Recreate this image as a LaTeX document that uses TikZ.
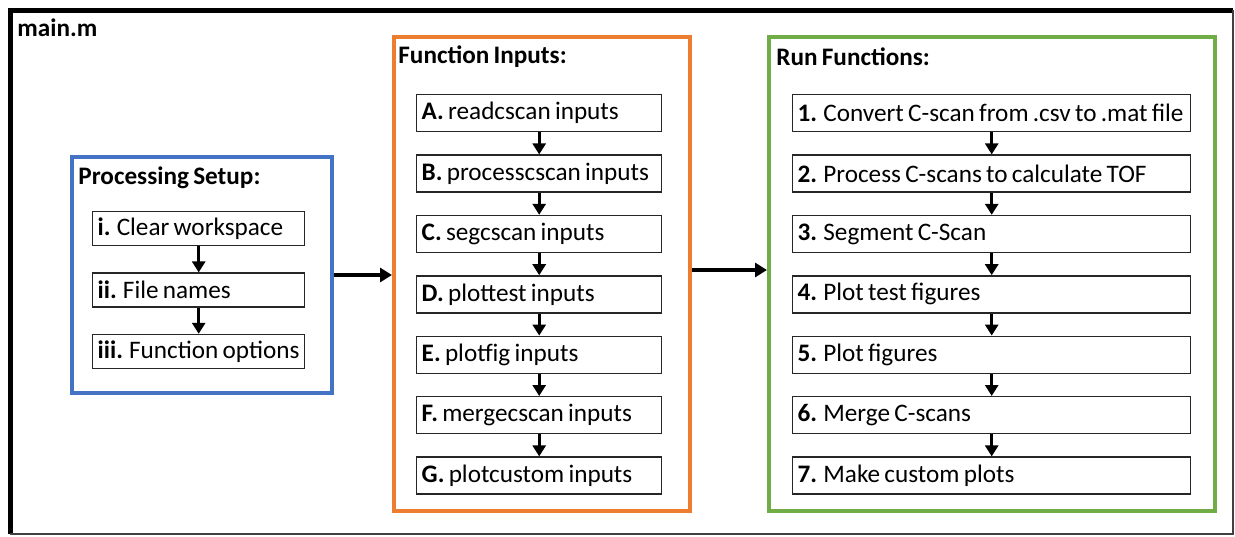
\documentclass[tikz,border=0pt]{standalone}
\usepackage{fontspec}
\setmainfont{Carlito}[WordSpace={0.75,0,0}]
\usetikzlibrary{positioning,arrows.meta}
\definecolor{setupblue}{RGB}{68,114,196}
\definecolor{inputorange}{RGB}{237,125,49}
\definecolor{rungreen}{RGB}{112,173,71}
\newcommand{\boxFont}[0]{\fontsize{12.6}{14}\selectfont}

\begin{document}
\begin{tikzpicture}[x=0.5pt, y=-0.5pt]
  \tikzset{
    stepbox/.style={draw=black!85, line width=0.7pt, align=flush left, anchor=north west,
      inner xsep=2.5pt, inner ysep=0pt, minimum height=18.5pt, font=\boxFont},
    groupbox/.style={line width=2pt, anchor=north west, inner sep=0pt},
    grouptitle/.style={anchor=west, inner sep=0pt, font=\boxFont\bfseries},
    steparrow/.style={-{Triangle[width=6.5pt,length=5.5pt]}, line width=1.6pt},
    bigarrow/.style={-{Triangle[width=7pt,length=6pt]}, line width=2pt}
  }
  \useasboundingbox (0,0) rectangle (1235,536);
  % main.m frame
  \draw[line width=2.5pt] (10,534) -- (10,10) -- (1233,10);
  \draw[black!75, line width=0.6pt] (1233,10) -- (1233,534) -- (10,534);
  \node[grouptitle] (mainfile) at (17,28) {main.m};

  % Processing Setup
  \node[groupbox, draw=setupblue, minimum width=130pt, minimum height=118pt] (setup) at (70,155) {};
  \node[grouptitle] (setuptitle) at (78,178) {Processing Setup:};
  \node[stepbox, text width=101pt, minimum height=17pt] (clear) at (92,211) {\textbf{i.} Clear workspace};
  \node[stepbox, text width=101pt, minimum height=17pt, below=13pt of clear] (names) {\textbf{ii.} File names};
  \node[stepbox, text width=101pt, minimum height=17pt, below=13pt of names] (options) {\textbf{iii.} Function options};

  % Function Inputs
  \node[groupbox, draw=inputorange, minimum width=148pt, minimum height=237pt] (inputs) at (392,35) {};
  \node[grouptitle] (inputstitle) at (398,57) {Function Inputs:};
  \node[stepbox, text width=117.5pt] (readin) at (416,94) {\textbf{A.} readcscan inputs};
  \node[stepbox, text width=117.5pt, below=11pt of readin] (procin) {\textbf{B.} processcscan inputs};
  \node[stepbox, text width=117.5pt, below=11pt of procin] (segin) {\textbf{C.} segcscan inputs};
  \node[stepbox, text width=117.5pt, below=11pt of segin] (testin) {\textbf{D.} plottest inputs};
  \node[stepbox, text width=117.5pt, below=11pt of testin] (figin) {\textbf{E.} plotfig inputs};
  \node[stepbox, text width=117.5pt, below=11pt of figin] (mergein) {\textbf{F.} mergecscan inputs};
  \node[stepbox, text width=117.5pt, below=11pt of mergein] (customin) {\textbf{G.} plotcustom inputs};

  % Run Functions
  \node[groupbox, draw=rungreen, minimum width=223pt, minimum height=237pt] (runs) at (767,35) {};
  \node[grouptitle] (runstitle) at (776,57) {Run Functions:};
  \node[stepbox, text width=194pt] (convert) at (792,94) {\textbf{1.} Convert C-scan from .csv to .mat file};
  \node[stepbox, text width=194pt, below=11pt of convert] (process) {\textbf{2.} Process C-scans to calculate TOF};
  \node[stepbox, text width=194pt, below=11pt of process] (segment) {\textbf{3.} Segment C-Scan};
  \node[stepbox, text width=194pt, below=11pt of segment] (plottest) {\textbf{4.} Plot test figures};
  \node[stepbox, text width=194pt, below=11pt of plottest] (plotfig) {\textbf{5.} Plot figures};
  \node[stepbox, text width=194pt, below=11pt of plotfig] (merge) {\textbf{6.} Merge C-scans};
  \node[stepbox, text width=194pt, below=11pt of merge] (custom) {\textbf{7.} Make custom plots};

  % arrows
  \draw[steparrow] (clear) -- (names);
  \draw[steparrow] (names) -- (options);
  \draw[steparrow] (readin) -- (procin);
  \draw[steparrow] (procin) -- (segin);
  \draw[steparrow] (segin) -- (testin);
  \draw[steparrow] (testin) -- (figin);
  \draw[steparrow] (figin) -- (mergein);
  \draw[steparrow] (mergein) -- (customin);
  \draw[steparrow] (convert) -- (process);
  \draw[steparrow] (process) -- (segment);
  \draw[steparrow] (segment) -- (plottest);
  \draw[steparrow] (plottest) -- (plotfig);
  \draw[steparrow] (plotfig) -- (merge);
  \draw[steparrow] (merge) -- (custom);
  \draw[bigarrow] (setup.east) -- (setup.east -| inputs.west);
  \draw[bigarrow] ([yshift=2pt]inputs.east) -- ([yshift=2pt]inputs.east -| runs.west);
\end{tikzpicture}
\end{document}
